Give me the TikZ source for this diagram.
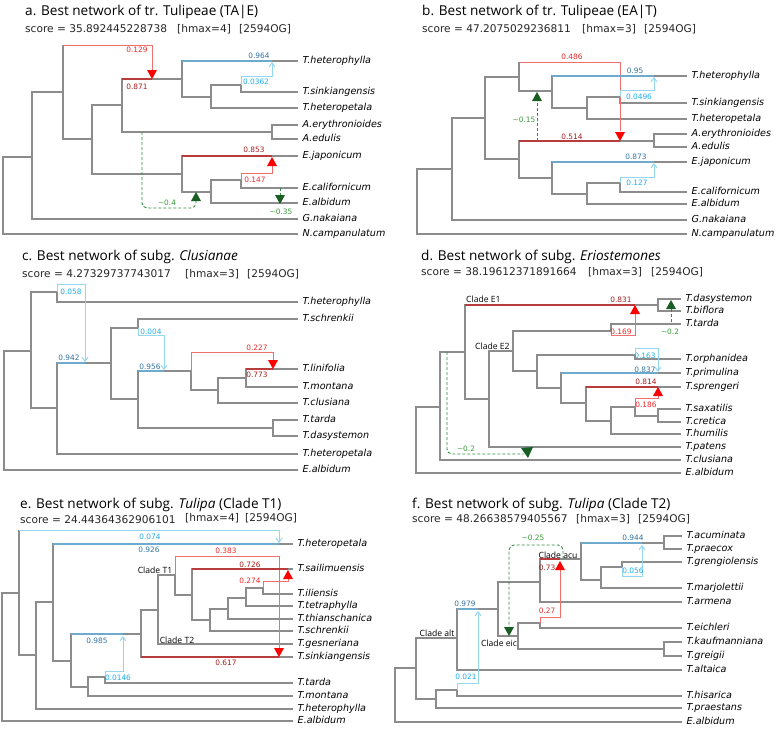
\documentclass[tikz,border=0pt]{standalone}
\usepackage{fontspec}
\setmainfont{DejaVu Sans}
\newfontfamily\ttlfont{Open Sans}
\usetikzlibrary{arrows.meta}
\definecolor{treegray}{RGB}{140,140,140}
\definecolor{minred}{RGB}{240,110,110}
\definecolor{majred}{RGB}{185,60,60}
\definecolor{redtxt}{RGB}{240,40,40}
\definecolor{dredtxt}{RGB}{165,30,30}
\definecolor{trired}{RGB}{255,0,0}
\definecolor{majblue}{RGB}{110,170,205}
\definecolor{minblue}{RGB}{150,215,240}
\definecolor{bluetxt}{RGB}{50,115,160}
\definecolor{cyantxt}{RGB}{30,175,235}
\definecolor{gline}{RGB}{50,140,65}
\definecolor{gtri}{RGB}{25,95,35}
\definecolor{gtxt}{RGB}{60,155,60}
\tikzset{
 tr/.style={draw=treegray,line width=1.1pt},
 rmin/.style={draw=minred,line width=1pt},
 rmaj/.style={draw=majred,line width=1.1pt},
 bmaj/.style={draw=majblue,line width=1.1pt},
 barr/.style={draw=minblue,line width=1pt,-{Straight Barb[length=4pt,width=6pt]}},
 gdash/.style={draw=gline,line width=0.9pt,dash pattern=on 3pt off 2pt},
 tiplab/.style={anchor=mid west,inner sep=0pt,xshift=4.5pt,font=\fontsize{9.6}{10}\selectfont\itshape},
 num/.style={inner sep=0pt,font=\fontsize{7.4}{8}\selectfont},
 ttl/.style={anchor=base west,inner sep=0pt,font=\ttlfont\fontsize{13.6}{16}\selectfont},
 scr/.style={anchor=base west,inner sep=0pt,font=\fontsize{10.6}{12}\selectfont,text=black!85},
 clab/.style={inner sep=0pt,font=\ttlfont\fontsize{8.6}{10}\selectfont},
}
\newcommand\Tip[4]{\coordinate (#1) at (#2,#3); \node[tiplab] (#1l) at (#1) {#4};}
\newcommand\Br[2]{\draw[tr] (#1) |- (#2);}
\newcommand\TriDn[2]{\fill[#1] (#2) -- ++(-5,-9) -- ++(10,0) -- cycle;}
\newcommand\TriUp[2]{\fill[#1] (#2) -- ++(-5,9) -- ++(10,0) -- cycle;}
\newcommand\tl{\textasciitilde}
\begin{document}
\begin{tikzpicture}[x=1pt,y=-1pt]
\fill[white] (0,0) rectangle (778,728);
\useasboundingbox (0,0) rectangle (778,728);
% ================= panel a =================
\node[ttl] (ta) at (25,15) {a. Best network of tr. Tulipeae (TA|E)};
\node[scr] (sa1) at (25,32) {score = 35.892445228738};
\node[scr] (sa2) at (177,32) {[hmax=4]};
\node[scr] (sa3) at (239,32) {[2594OG]};
\coordinate (a0) at (3,195);
\coordinate (a1) at (32,157);
\coordinate (a2) at (63,92);
\coordinate (a3) at (92,139);
\coordinate (a4) at (122,105);
\coordinate (aH) at (152,79);
\coordinate (a5) at (182,79);
\coordinate (a6) at (211,97);
\coordinate (a7) at (241,85);
\coordinate (aA) at (272,132);
\coordinate (a8) at (182,174);
\coordinate (a9) at (211,192);
\coordinate (a10) at (241,180);
\Tip{at1}{298}{61}{T.heterophylla}
\Tip{at2}{298}{92}{T.sinkiangensis}
\Tip{at3}{298}{108}{T.heteropetala}
\Tip{at4}{298}{125}{A.erythronioides}
\Tip{at5}{298}{139}{A.edulis}
\Tip{at6}{298}{156}{E.japonicum}
\Tip{at7}{298}{188}{E.californicum}
\Tip{at8}{298}{203}{E.albidum}
\Tip{at9}{298}{219}{G.nakaiana}
\Tip{at10}{298}{234}{N.campanulatum}
\Br{a0}{a1}\Br{a0}{at10}\Br{a1}{a2}\Br{a1}{at9}\Br{a2}{a3}
\draw[tr] (a2) -- (63,45);
\Br{a3}{a4}\Br{a3}{a8}\Br{a4}{aH}\draw[tr] (aH) -- (a5);\Br{a4}{aA}
\Br{a5}{at1}\Br{a5}{a6}\Br{a6}{a7}\Br{a6}{at3}\Br{a7}{at2}
\Br{aA}{at4}\Br{aA}{at5}
\Br{a8}{at6}\Br{a8}{a9}\Br{a9}{a10}\Br{a9}{at8}\Br{a10}{at7}
\draw[rmaj] (a4 |- aH) -- (aH);
\draw[rmin] (63,45) -- (152,45) -- (152,70);
\TriDn{trired}{aH}
\draw[bmaj] (a5 |- at1) -- (272,61);
\draw[barr] (a7) -- (241,76) -- (272,76) -- (272,62);
\draw[rmaj] (a8 |- at6) -- (272,156);
\draw[rmin] (a10) -- (241,173) -- (272,173) -- (272,166);
\TriUp{trired}{272,157}
\draw[gdash,rounded corners=5pt] (142,132) -- (142,208) -- (196,208) -- (196,201);
\TriUp{gtri}{196,192}
\draw[gdash] (280,188) -- (280,195);
\TriDn{gtri}{280,204}
\node[num,text=redtxt] (na1) at (137,50) {0.129};
\node[num,text=dredtxt] (na2) at (137,87) {0.871};
\node[num,text=bluetxt] (na3) at (259,56) {0.964};
\node[num,text=cyantxt] (na4) at (256,82) {0.0362};
\node[num,text=dredtxt] (na5) at (254,150) {0.853};
\node[num,text=redtxt] (na6) at (255,180) {0.147};
\node[num,text=gtxt] (na7) at (167,203) {\tl0.4};
\node[num,text=gtxt] (na8) at (281,212) {\tl0.35};
% ================= panel b =================
\node[ttl] (tb) at (422,15) {b. Best network of tr. Tulipeae (EA|T)};
\node[scr] (sb1) at (422,32) {score = 47.2075029236811};
\node[scr] (sb2) at (582,32) {[hmax=3]};
\node[scr] (sb3) at (644,32) {[2594OG]};
\coordinate (b0) at (417,200);
\coordinate (b1) at (452,169);
\coordinate (b2) at (485,118);
\coordinate (b3) at (519,77);
\coordinate (b4) at (552,91);
\coordinate (b5) at (587,108);
\coordinate (b6) at (620,97);
\coordinate (b7) at (519,159);
\coordinate (bH) at (620,141);
\coordinate (bA) at (654,141);
\coordinate (b8) at (552,178);
\coordinate (b9) at (587,194);
\coordinate (b10) at (620,183);
\Tip{bt1}{687}{76}{T.heterophylla}
\Tip{bt2}{687}{103}{T.sinkiangensis}
\Tip{bt3}{687}{119}{T.heteropetala}
\Tip{bt4}{687}{134}{A.erythronioides}
\Tip{bt5}{687}{147}{A.edulis}
\Tip{bt6}{687}{162}{E.japonicum}
\Tip{bt7}{687}{192}{E.californicum}
\Tip{bt8}{687}{204}{E.albidum}
\Tip{bt9}{687}{220}{G.nakaiana}
\Tip{bt10}{687}{234}{N.campanulatum}
\Br{b0}{b1}\Br{b0}{bt10}\Br{b1}{b2}\Br{b1}{bt9}\Br{b2}{b3}\Br{b2}{b7}
\draw[tr] (b3) -- (519,62);
\Br{b3}{b4}\Br{b4}{bt1}\Br{b4}{b5}\Br{b5}{b6}\Br{b5}{bt3}\Br{b6}{bt2}
\Br{b7}{bH}\draw[tr] (bH) -- (bA);\Br{bA}{bt4}\Br{bA}{bt5}
\Br{b7}{b8}\Br{b8}{bt6}\Br{b8}{b9}\Br{b9}{b10}\Br{b9}{bt8}\Br{b10}{bt7}
\draw[rmin] (519,62) -- (620,62) -- (620,131);
\draw[rmaj] (b7 |- bH) -- (bH);
\TriDn{trired}{bH}
\draw[bmaj] (b4 |- bt1) -- (654,76);
\draw[barr] (b6) -- (620,90) -- (654,90) -- (654,77);
\draw[bmaj] (b8 |- bt6) -- (654,162);
\draw[barr] (b10) -- (620,177) -- (654,177) -- (654,163);
\draw[gdash] (537,141) -- (537,101);
\TriUp{gtri}{537,92}
\node[num,text=redtxt] (nb1) at (572,57) {0.486};
\node[num,text=dredtxt] (nb2) at (572,137) {0.514};
\node[num,text=bluetxt] (nb3) at (635,71) {0.95};
\node[num,text=cyantxt] (nb4) at (639,97) {0.0496};
\node[num,text=bluetxt] (nb5) at (636,157) {0.873};
\node[num,text=cyantxt] (nb6) at (637,183) {0.127};
\node[num,text=gtxt] (nb7) at (524,120) {\tl0.15};
% ================= panel c =================
\node[ttl] (tc) at (22,260) {c. Best network of subg. \textit{Clusianae}};
\node[scr] (sc1) at (22,277) {score = 4.27329737743017};
\node[scr] (sc2) at (185,277) {[hmax=3]};
\node[scr] (sc3) at (247,277) {[2594OG]};
\coordinate (c0) at (4,410);
\coordinate (c1) at (31,351);
\coordinate (c2) at (57,292);
\coordinate (c3) at (57,408);
\coordinate (cH) at (85,363);
\coordinate (c4) at (111,363);
\coordinate (c5) at (138,328);
\coordinate (c6) at (138,399);
\coordinate (cH2) at (164,371);
\coordinate (c7) at (191,371);
\coordinate (c9) at (218,390);
\coordinate (c10) at (246,378);
\coordinate (c8) at (273,428);
\Tip{ct1}{298}{302}{T.heterophylla}
\Tip{ct2}{298}{319}{T.schrenkii}
\Tip{ct3}{298}{369}{T.linifolia}
\Tip{ct4}{298}{387}{T.montana}
\Tip{ct5}{298}{403}{T.clusiana}
\Tip{ct6}{298}{420}{T.tarda}
\Tip{ct7}{298}{436}{T.dasystemon}
\Tip{ct8}{298}{454}{T.heteropetala}
\Tip{ct9}{298}{470}{E.albidum}
\Br{c0}{c1}\Br{c0}{ct9}\Br{c1}{c2}\Br{c1}{c3}\Br{c2}{ct1}
\Br{c3}{cH}\draw[tr] (cH) -- (c4);\Br{c3}{ct8}
\Br{c4}{c5}\Br{c4}{c6}\Br{c5}{ct2}
\Br{c6}{cH2}\draw[tr] (cH2) -- (c7);\Br{c6}{c8}
\Br{c7}{c9}\Br{c9}{c10}\Br{c9}{ct5}\Br{c10}{ct3}\Br{c10}{ct4}
\Br{c8}{ct6}\Br{c8}{ct7}
\draw[barr] (c2) -- (57,284) -- (85,284) -- (85,362);
\draw[bmaj] (c3 |- cH) -- (cH);
\draw[barr] (c5) -- (138,335) -- (164,335) -- (164,370);
\draw[bmaj] (c6 |- cH2) -- (cH2);
\draw[rmin] (c7) -- (191,352) -- (273,352) -- (273,360);
\draw[rmaj] (c10 |- ct3) -- (273,369);
\TriDn{trired}{273,369}
\node[num,text=cyantxt] (nc1) at (71,292) {0.058};
\node[num,text=bluetxt] (nc2) at (69,358) {0.942};
\node[num,text=cyantxt] (nc3) at (151,332) {0.004};
\node[num,text=bluetxt] (nc4) at (150,367) {0.956};
\node[num,text=redtxt] (nc5) at (257,348) {0.227};
\node[num,text=dredtxt] (nc6) at (257,375) {0.773};
% ================= panel d =================
\node[ttl] (td) at (421,260) {d. Best network of subg. \textit{Eriostemones}};
\node[scr] (sd1) at (421,275) {score = 38.19612371891664};
\node[scr] (sd2) at (588,275) {[hmax=3]};
\node[scr] (sd3) at (651,275) {[2594OG]};
\coordinate (d0) at (416,440);
\coordinate (d1) at (440,407);
\coordinate (d2) at (465,352);
\coordinate (dH) at (635,305);
\coordinate (d3) at (658,305);
\coordinate (d4) at (489,399);
\coordinate (d5) at (513,351);
\coordinate (d6) at (611,331);
\coordinate (d7) at (537,371);
\coordinate (d8) at (635,355);
\coordinate (d9) at (561,388);
\coordinate (d10) at (586,403);
\coordinate (d11) at (611,421);
\coordinate (d12) at (635,407);
\coordinate (d13) at (658,416);
\Tip{dt1}{681}{299}{T.dasystemon}
\Tip{dt2}{681}{311}{T.biflora}
\Tip{dt3}{681}{324}{T.tarda}
\Tip{dt4}{681}{359}{T.orphanidea}
\Tip{dt5}{681}{373}{T.primulina}
\Tip{dt6}{681}{387}{T.sprengeri}
\Tip{dt7}{681}{409}{T.saxatilis}
\Tip{dt8}{681}{422}{T.cretica}
\Tip{dt9}{681}{434}{T.humilis}
\Tip{dt10}{681}{447}{T.patens}
\Tip{dt11}{681}{460}{T.clusiana}
\Tip{dt12}{681}{473}{E.albidum}
\Br{d0}{d1}\Br{d0}{dt12}\Br{d1}{d2}\Br{d1}{dt11}
\Br{d2}{dH}\draw[tr] (dH) -- (d3);\Br{d3}{dt1}\Br{d3}{dt2}
\Br{d2}{d4}\Br{d4}{d5}\Br{d4}{dt10}\Br{d5}{d6}\Br{d5}{d7}\Br{d6}{dt3}
\Br{d7}{d8}\Br{d7}{d9}\Br{d8}{dt4}\Br{d9}{dt5}\Br{d9}{d10}\Br{d10}{dt6}\Br{d10}{d11}
\Br{d11}{d12}\Br{d11}{dt9}\Br{d12}{d13}\Br{d13}{dt7}\Br{d13}{dt8}
\draw[rmaj] (d2 |- dH) -- (dH);
\draw[rmin] (d6) -- (611,335) -- (635,335) -- (635,314);
\TriUp{trired}{635,305}
\draw[barr] (d8) -- (635,348) -- (658,348) -- (658,372);
\draw[bmaj] (d9 |- dt5) -- (658,373);
\draw[rmaj] (d10 |- dt6) -- (658,387);
\draw[rmin] (d12) -- (635,398) -- (658,398) -- (658,396);
\TriUp{trired}{658,387}
\draw[gdash,rounded corners=5pt] (447,352) -- (447,454) -- (524,454);
\fill[gtri] (521,448) -- (533,447) -- (528,458) -- cycle;
\draw[gdash] (671,309) -- (671,324);
\TriUp{gtri}{671,300}
\node[clab,anchor=west] (cE1) at (466,299) {Clade E1};
\node[clab,anchor=west] (cE2) at (475,346) {Clade E2};
\node[num,text=dredtxt] (nd1) at (621,300) {0.831};
\node[num,text=redtxt] (nd2) at (621,332) {0.169};
\node[num,text=cyantxt] (nd3) at (645,356) {0.163};
\node[num,text=bluetxt] (nd4) at (645,370) {0.837};
\node[num,text=dredtxt] (nd5) at (646,382) {0.814};
\node[num,text=redtxt] (nd6) at (646,405) {0.186};
\node[num,text=gtxt] (nd7) at (466,449) {\tl0.2};
\node[num,text=gtxt] (nd8) at (670,332) {\tl0.2};
% ================= panel e =================
\node[ttl] (te) at (20,508) {e. Best network of subg. \textit{Tulipa} (Clade T1)};
\node[scr] (se1) at (20,523) {score = 24.44364362906101};
\node[scr] (se2) at (185,521) {[hmax=4]};
\node[scr] (se3) at (245,521) {[2594OG]};
\coordinate (e0) at (2,650);
\coordinate (e1) at (19,593);
\coordinate (e2) at (36,655);
\coordinate (e3) at (53,602);
\coordinate (e4) at (71,661);
\coordinate (eH) at (123,634);
\coordinate (e5) at (141,634);
\coordinate (e6) at (88,687);
\coordinate (e7) at (105,677);
\coordinate (e8) at (158,610);
\coordinate (e9) at (175,575);
\coordinate (e10) at (192,595);
\coordinate (e11) at (210,620);
\coordinate (e12) at (228,609);
\coordinate (e13) at (246,598);
\coordinate (e14) at (263,588);
\Tip{et1}{293}{544}{T.heteropetala}
\Tip{et2}{293}{569}{T.sailimuensis}
\Tip{et3}{293}{594}{T.iliensis}
\Tip{et4}{293}{606}{T.tetraphylla}
\Tip{et5}{293}{619}{T.thianschanica}
\Tip{et6}{293}{631}{T.schrenkii}
\Tip{et7}{293}{644}{T.gesneriana}
\Tip{et8}{293}{657}{T.sinkiangensis}
\Tip{et9}{293}{683}{T.tarda}
\Tip{et10}{293}{696}{T.montana}
\Tip{et11}{293}{709}{T.heterophylla}
\Tip{et12}{293}{721}{E.albidum}
\Br{e0}{e1}\Br{e0}{et12}\draw[tr] (e1) -- (19,530);\Br{e1}{e2}
\Br{e2}{e3}\Br{e2}{et11}\Br{e3}{et1}\Br{e3}{e4}
\Br{e4}{eH}\draw[tr] (eH) -- (e5);\Br{e4}{e6}\Br{e6}{e7}\Br{e6}{et10}\Br{e7}{et9}
\Br{e5}{e8}\Br{e5}{et8}\Br{e8}{e9}\Br{e8}{et7}\Br{e9}{e10}
\Br{e10}{et2}\Br{e10}{e11}\Br{e11}{e12}\Br{e11}{et6}\Br{e12}{e13}\Br{e12}{et5}
\Br{e13}{e14}\Br{e13}{et4}\Br{e14}{et3}
\draw[barr] (e1 |- 0,530) -- (279,530) -- (279,543);
\draw[bmaj] (e3 |- et1) -- (279,544);
\draw[bmaj] (e4 |- eH) -- (eH);
\draw[barr] (e7) -- (105,671) -- (123,671) -- (123,636);
\draw[rmaj] (e5 |- et8) -- (279,657);
\draw[rmin] (e9) -- (175,556) -- (279,556);
\draw[draw=minred,line width=0.6pt] (279,556) -- (279,648);
\TriDn{trired}{279,657}
\draw[rmaj] (e10 |- et2) -- (288,569);
\draw[rmin] (e14) -- (263,581) -- (288,581) -- (288,579);
\TriUp{trired}{288,570}
\node[clab] (cT1) at (155,570) {Clade T1};
\node[clab] (cT2) at (177,640) {Clade T2};
\node[num,text=cyantxt] (ne1) at (150,537) {0.074};
\node[num,text=bluetxt] (ne2) at (149,550) {0.926};
\node[num,text=redtxt] (ne3) at (226,551) {0.383};
\node[num,text=dredtxt] (ne4) at (250,565) {0.726};
\node[num,text=redtxt] (ne5) at (250,581) {0.274};
\node[num,text=bluetxt] (ne6) at (97,641) {0.985};
\node[num,text=cyantxt] (ne7) at (118,678) {0.0146};
\node[num,text=dredtxt] (ne8) at (226,663) {0.617};
% ================= panel f =================
\node[ttl] (tf) at (412,508) {f. Best network of subg. \textit{Tulipa} (Clade T2)};
\node[scr] (sf1) at (412,522) {score = 48.26638579405567};
\node[scr] (sf2) at (576,522) {[hmax=3]};
\node[scr] (sf3) at (638,522) {[2594OG]};
\coordinate (f0) at (395,690);
\coordinate (f1) at (416,668);
\coordinate (f2) at (457,638);
\coordinate (f3) at (436,699);
\coordinate (f4) at (457,690);
\coordinate (fH2) at (478,609);
\coordinate (f5) at (498,609);
\coordinate (f6) at (540,582);
\coordinate (fH) at (560,559);
\coordinate (f8) at (581,559);
\coordinate (fH3) at (642,543);
\coordinate (f11) at (664,543);
\coordinate (f12) at (601,580);
\coordinate (f13) at (622,567);
\coordinate (f7) at (518,636);
\coordinate (f9) at (540,623);
\coordinate (f10) at (664,649);
\Tip{ft1}{682}{536}{T.acuminata}
\Tip{ft2}{682}{549}{T.praecox}
\Tip{ft3}{682}{562}{T.grengiolensis}
\Tip{ft4}{682}{588}{T.marjolettii}
\Tip{ft5}{682}{602}{T.armena}
\Tip{ft6}{682}{628}{T.eichleri}
\Tip{ft7}{682}{642}{T.kaufmanniana}
\Tip{ft8}{682}{656}{T.greigii}
\Tip{ft9}{682}{670}{T.altaica}
\Tip{ft10}{682}{696}{T.hisarica}
\Tip{ft11}{682}{708}{T.praestans}
\Tip{ft12}{682}{722}{E.albidum}
\Br{f0}{f1}\Br{f0}{ft12}\Br{f1}{f2}\Br{f1}{f3}\Br{f3}{f4}\Br{f3}{ft11}\Br{f4}{ft10}
\Br{f2}{fH2}\draw[tr] (fH2) -- (f5);\Br{f2}{ft9}
\Br{f5}{f6}\Br{f5}{f7}\Br{f6}{fH}\draw[tr] (fH) -- (f8);\Br{f6}{ft5}
\Br{f8}{fH3}\draw[tr] (fH3) -- (f11);\Br{f11}{ft1}\Br{f11}{ft2}
\Br{f8}{f12}\Br{f12}{f13}\Br{f12}{ft4}\Br{f13}{ft3}
\Br{f7}{f9}\Br{f7}{f10}\Br{f9}{ft6}\Br{f10}{ft7}\Br{f10}{ft8}
\draw[barr] (f4) -- (457,683) -- (478,683) -- (478,611);
\draw[bmaj] (f2 |- fH2) -- (fH2);
\draw[rmaj] (f6 |- fH) -- (fH);
\draw[rmin] (f9) -- (540,617) -- (560,617) -- (560,570);
\TriUp{trired}{560,561}
\draw[bmaj] (f8 |- fH3) -- (fH3);
\draw[barr] (f13) -- (622,576) -- (642,576) -- (642,545);
\draw[gdash,rounded corners=5pt] (563,559) -- (563,545) -- (509,545) -- (509,627);
\TriDn{gtri}{509,636}
\node[clab] (cacu) at (558,555) {Clade acu};
\node[clab] (calt) at (437,633) {Clade alt};
\node[clab] (ceic) at (499,643) {Clade eic};
\node[num,text=bluetxt] (nf1) at (633,538) {0.944};
\node[num,text=cyantxt] (nf2) at (633,571) {0.056};
\node[num,text=bluetxt] (nf3) at (465,604) {0.979};
\node[num,text=cyantxt] (nf4) at (466,677) {0.021};
\node[num,text=dredtxt] (nf5) at (547,568) {0.73};
\node[num,text=redtxt] (nf6) at (547,611) {0.27};
\node[num,text=gtxt] (nf7) at (533,538) {\tl0.25};
\end{tikzpicture}
\end{document}
